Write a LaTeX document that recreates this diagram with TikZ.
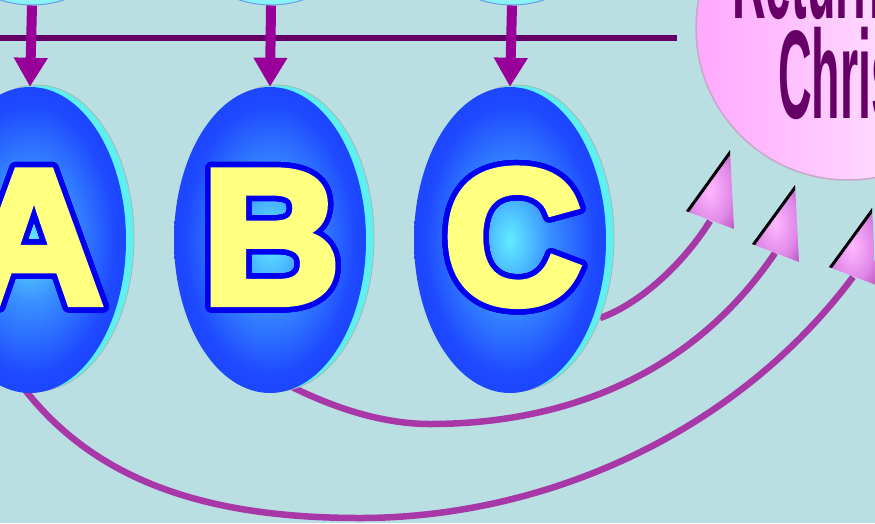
\documentclass[tikz,border=0pt]{standalone}
\usepackage{fontspec}
\setmainfont{Liberation Sans}
\newfontfamily\letterfont[FakeBold=4]{Liberation Sans Bold}
\newfontfamily\titlefont{Liberation Sans Bold}
\usepackage{contour}
\contournumber{48}
\contourlength{5.5pt}
\usetikzlibrary{shapes.geometric,arrows.meta}
\definecolor{bg}{HTML}{BADFE2}
\definecolor{hline}{HTML}{660066}
\definecolor{varrowc}{HTML}{990099}
\definecolor{curvec}{HTML}{A838A8}
\definecolor{topcirc}{HTML}{88F2F4}
\definecolor{topedge}{HTML}{6A9AE8}
\definecolor{rimc}{HTML}{5CF0F0}
\definecolor{c0}{HTML}{62ECFF}
\definecolor{c1}{HTML}{3A92FF}
\definecolor{c2}{HTML}{1E4AFF}
\definecolor{c3}{HTML}{1632FF}
\definecolor{c4}{HTML}{1020E8}
\definecolor{c5}{HTML}{0A0CA0}
\definecolor{letterblue}{HTML}{0000F0}
\definecolor{letteryellow}{HTML}{FFFF80}
\definecolor{pk0}{HTML}{FFB8FF}
\definecolor{pk1}{HTML}{E088E8}
\definecolor{pk2}{HTML}{A030A0}
\definecolor{pinkL}{HTML}{FFA8FF}
\definecolor{pinkR}{HTML}{FFF8FF}
\definecolor{pinkedge}{HTML}{C8A8C8}
\definecolor{titlec}{HTML}{660066}
\pgfdeclareradialshading{ellshade}{\pgfpoint{0bp}{0bp}}{color(0bp)=(c0); color(10bp)=(c1); color(22bp)=(c2); color(38bp)=(c3); color(46bp)=(c4); color(50bp)=(c5)}
\pgfdeclareradialshading{headshade}{\pgfpoint{0bp}{0bp}}{color(0bp)=(pk0); color(22bp)=(pk1); color(45bp)=(pk2); color(50bp)=(pk2)}
\tikzset{
  topball/.style={circle, minimum size=204pt, inner sep=0pt, fill=topcirc, draw=topedge, line width=1pt},
  rimell/.style={ellipse, minimum width=194pt, minimum height=306pt, inner sep=0pt, fill=rimc, draw=gray!60, line width=0.8pt},
  bigell/.style={ellipse, minimum width=192pt, minimum height=306pt, inner sep=0pt, shading=ellshade},
  lettertext/.style={inner sep=0pt, text=letteryellow, font=\letterfont\fontsize{192}{192}\selectfont},
  varrow/.style={draw=varrowc, line width=10pt, -{Triangle[width=32pt,length=29pt]}},
  curvearrow/.style={draw=curvec, line width=6.5pt},
  headtri/.style={shading=headshade},
  headedge/.style={draw=black, line width=6pt},
  titletext/.style={inner sep=0pt, text=titlec, font=\titlefont\fontsize{126}{126}\selectfont}
}
\begin{document}
\begin{tikzpicture}[x=1pt,y=-1pt]
\useasboundingbox (0,0) rectangle (875,523);
\clip (0,0) rectangle (875,523);
\fill[bg] (0,0) rectangle (875,523);

% pink circle
\node[circle, minimum size=304pt, inner sep=0pt, left color=pinkL, right color=pinkR, draw=pinkedge, line width=1.5pt] (ret) at (848,28) {};
\node[titletext, anchor=base west] (t1) at (732,18) {\scalebox{0.37}[1]{Return of}};
\node[titletext, anchor=base west] (t2) at (778,118) {\scalebox{0.37}[1]{Christ}};

% top balls
\node[topball] (tA) at (32,-97) {};
\node[topball] (tB) at (271,-97) {};
\node[topball] (tC) at (512,-97) {};

% horizontal line
\coordinate (h1) at (0,38);
\coordinate (h2) at (677,38);
\draw[hline, line width=6pt] (h1) -- (h2);

% curve anchors
\coordinate (s1) at (600,318);
\coordinate (e1) at (710,221);
\coordinate (s2) at (290,386);
\coordinate (m2) at (430,424);
\coordinate (e2) at (775,253);
\coordinate (s3) at (22,386);
\coordinate (m3) at (360,518);
\coordinate (e3) at (853,277);

\draw[curvearrow] (s1) .. controls (640,304) and (684,263) .. (e1);
\draw[curvearrow] (s2) .. controls (330,406) and (380,424) .. (m2)
                       .. controls (520,424) and (674,402) .. (e2);
\draw[curvearrow] (s3) .. controls (96,483) and (210,518) .. (m3)
                       .. controls (540,518) and (733,437) .. (e3);

% ellipses
\node[rimell] (rA) at (37,238) {};
\node[rimell] (rB) at (277,238) {};
\node[rimell] (rC) at (517,238) {};
\node[bigell] (A) at (30,240) {};
\node[bigell] (B) at (270,240) {};
\node[bigell] (C) at (510,240) {};

\node[lettertext] (lA) at (34,240) {\contour{letterblue}{A}};
\node[lettertext] (lB) at (271,240) {\contour{letterblue}{B}};
\node[lettertext] (lC) at (513,240) {\contour{letterblue}{C}};

% vertical arrows
\draw[varrow] (tA.south) -- (A.north);
\draw[varrow] (tB.south) -- (B.north);
\draw[varrow] (tC.south) -- (C.north);

% arrow heads
\coordinate (p1t) at (730,150); \coordinate (p1l) at (686,211); \coordinate (p1r) at (734,229);
\coordinate (p2t) at (795,185); \coordinate (p2l) at (752,244); \coordinate (p2r) at (799,262);
\coordinate (p3t) at (872,208); \coordinate (p3l) at (829,267); \coordinate (p3r) at (876,285);
\shade[headtri] (p1t) -- (p1l) -- (p1r) -- cycle;
\shade[headtri] (p2t) -- (p2l) -- (p2r) -- cycle;
\shade[headtri] (p3t) -- (p3l) -- (p3r) -- cycle;
\begin{scope}
\clip (p1t) -- (p1l) -- (p1r) -- cycle;
\draw[headedge] (p1l) -- (p1t);
\end{scope}
\begin{scope}
\clip (p2t) -- (p2l) -- (p2r) -- cycle;
\draw[headedge] (p2l) -- (p2t);
\end{scope}
\begin{scope}
\clip (p3t) -- (p3l) -- (p3r) -- cycle;
\draw[headedge] (p3l) -- (p3t);
\end{scope}
\end{tikzpicture}
\end{document}
